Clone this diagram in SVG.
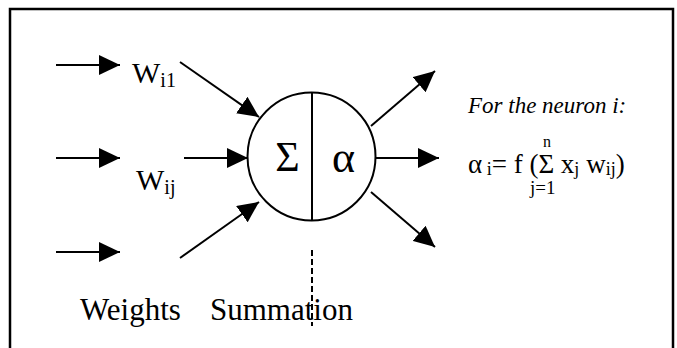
<svg xmlns="http://www.w3.org/2000/svg" width="677" height="348" viewBox="0 0 677 348">
<style>
.ln{stroke:#000;stroke-width:2;fill:none}
text{fill:#000}
.t{font-family:'Liberation Serif','Times New Roman',serif}
</style>
<defs>
<marker id="ah" viewBox="0 0 21 20" refX="21" refY="10" markerWidth="21" markerHeight="20" markerUnits="userSpaceOnUse" orient="auto">
<path d="M0,0 L21,10 L0,20 z" fill="#000"/>
</marker>
</defs>
<rect x="0" y="0" width="677" height="348" fill="#fff"/>
<rect id="frame" x="10" y="9" width="663" height="360" fill="none" stroke="#000" stroke-width="2.5"/>
<g id="neuron" class="t">
<circle cx="311.5" cy="156.5" r="64" class="ln"/>
<line x1="312" y1="92.5" x2="312" y2="220.5" class="ln"/>
<text x="287.5" y="171" font-size="42" text-anchor="middle">Σ</text>
<text x="343.5" y="171.5" font-size="44" text-anchor="middle">α</text>
</g>
<g id="labels" class="t">
<text x="132" y="83" font-size="30">W<tspan font-size="20" dy="4">i1</tspan></text>
<text x="136" y="190" font-size="30">W<tspan font-size="20" dy="4">ij</tspan></text>
<text x="80" y="320" font-size="31">Weights</text>
<text x="210" y="320" font-size="31">Summation</text>
</g>
<g id="formula" class="t">
<text x="468" y="112.5" font-size="23" font-style="italic">For the neuron i:</text>
<text x="468" y="173" font-size="27">α<tspan font-size="18" dy="2"> i</tspan><tspan dy="-2">= f (Σ x</tspan><tspan font-size="18" dy="2">j</tspan><tspan dy="-2"> w</tspan><tspan font-size="18" dy="2">ij</tspan><tspan dy="-2">)</tspan></text>
<text x="543" y="147" font-size="16">n</text>
<text x="530" y="194" font-size="19">j=1</text>
</g>
<g id="connectors">
<line x1="56" y1="65" x2="120" y2="65" class="ln" marker-end="url(#ah)"/>
<line x1="56" y1="158" x2="120" y2="158" class="ln" marker-end="url(#ah)"/>
<line x1="56" y1="252" x2="120" y2="252" class="ln" marker-end="url(#ah)"/>
<line x1="180" y1="62" x2="259" y2="117" class="ln" marker-end="url(#ah)"/>
<line x1="184" y1="158" x2="248" y2="158" class="ln" marker-end="url(#ah)"/>
<line x1="180" y1="258" x2="259" y2="202" class="ln" marker-end="url(#ah)"/>
<line x1="371" y1="126" x2="435" y2="71" class="ln" marker-end="url(#ah)"/>
<line x1="376" y1="158" x2="439" y2="158" class="ln" marker-end="url(#ah)"/>
<line x1="371" y1="192" x2="435" y2="247" class="ln" marker-end="url(#ah)"/>
<line x1="312" y1="250" x2="312" y2="326" class="ln" stroke-dasharray="6,3"/>
</g>
</svg>
